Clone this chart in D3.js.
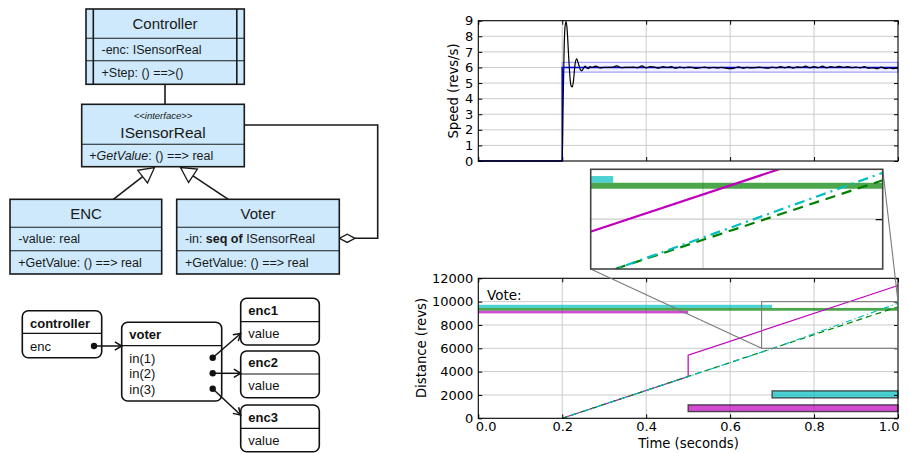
<!DOCTYPE html>
<html><head><meta charset="utf-8">
<script src="https://cdn.jsdelivr.net/npm/d3@7"></script>
<style>body{margin:0;background:#fff} svg{display:block}</style>
</head><body><svg id="c" width="909" height="453"></svg>
<script>
// ---------------- DATA ----------------
const speedTicks = [0,1,2,3,4,5,6,7,8,9];
const timeTicks = [0.0,0.2,0.4,0.6,0.8,1.0];
const distTicks = [0,2000,4000,6000,8000,10000,12000];

const refTime  = [0, 0.2, 0.2, 1.0];
const refSpeed = [0, 0, 6, 6];
const bandTime = [0.2, 1.0];
const bandLow  = [5.7, 5.7];
const bandHigh = [6.33, 6.33];

const speedTime = [0, 0.2, 0.202, 0.2045, 0.207, 0.2095, 0.212, 0.2155, 0.219, 0.2215, 0.224, 0.227, 0.2305, 0.2345, 0.2385, 0.2425, 0.2465, 0.2505, 0.2545, 0.2585, 0.2625, 0.2665,
  0.27,0.28,0.29,0.30,0.31,0.32,0.33,0.34,0.35,0.36,0.37,0.38,0.39,0.40,0.41,0.42,0.43,0.44,0.45,0.46,0.47,0.48,0.49,0.50,
  0.51,0.52,0.53,0.54,0.55,0.56,0.57,0.58,0.59,0.60,0.61,0.62,0.63,0.64,0.65,0.66,0.67,0.68,0.69,0.70,
  0.71,0.72,0.73,0.74,0.75,0.76,0.77,0.78,0.79,0.80,0.81,0.82,0.83,0.84,0.85,0.86,0.87,0.88,0.89,0.90,
  0.91,0.92,0.93,0.94,0.95,0.96,0.97,0.98,0.99,1.00];
const speedValue = [0, 0, 3.5, 7.2, 8.7, 8.95, 8.3, 6.6, 5.2, 4.8, 4.75, 5.2, 6.2, 6.55, 6.25, 5.9, 5.78, 5.95, 6.08, 5.97, 5.93, 6.05,
  6.0,6.08,5.97,6.0,6.0,6.02,6.1,5.99,6.0,6.0,6.02,5.98,6.1,5.97,6.05,6.02,5.96,6.06,6.0,6.05,5.95,6.03,5.97,6.02,
  6.0,5.94,5.99,6.02,5.96,6.0,5.97,6.0,5.96,5.92,5.96,6.04,5.95,6.0,5.97,5.99,6.02,5.98,5.95,6.02,
  5.97,6.06,5.98,6.05,5.96,6.04,6.0,6.08,5.98,6.06,5.99,6.08,5.97,6.06,6.0,6.07,6.0,6.05,5.99,6.03,
  5.97,6.05,5.95,5.98,5.92,6.02,5.93,5.97,5.92,5.95];

// distance (revs) per encoder
const greenTime   = [0.2, 1.0];
const greenDist   = [0, 9560];
const cyanTime    = [0.2, 0.7, 1.0];
const cyanDist    = [0, 5965, 9860];
const magentaTime = [0.2, 0.5, 0.5, 1.0];
const magentaDist = [0, 3580, 5410, 11380];

// vote bars
const voteColor = ['#00bfbf', '#008000', '#bf00bf'];
const voteStart = [0, 0, 0];
const voteEnd   = [0.7, 1.0, 0.5];
const voteLow   = [9460, 9220, 8990];
const voteHigh  = [9730, 9460, 9220];

// fault bars
const faultColor = ['#00bfbf', '#bf00bf'];
const faultStart = [0.7, 0.5];
const faultEnd   = [1.0, 1.0];
const faultLow   = [1750, 575];
const faultHigh  = [2350, 1150];

// inset zoom region
const insetTime = [0.675, 1.0];
const insetDist = [6000, 10000];
const insetGridTime = [0.8];
const insetGridDist = [8000];

// ---------------- DRAW ----------------
(function(){
const svg = d3.select('#c');
svg.append('rect').attr('width',909).attr('height',453).attr('fill','#fff');
const FONT = 'DejaVu Sans';
const gridCol = '#cbcbcb';

// ===== UML class diagram =====
const umlFill = '#cde9fb', ink = '#1a1a1a';
const uml = svg.append('g').attr('font-family','Liberation Sans, Arial, sans-serif').attr('fill', ink);
function umlBox(x, y, w, h, divs) {
  uml.append('rect').attr('x',x).attr('y',y).attr('width',w).attr('height',h)
    .attr('fill',umlFill).attr('stroke',ink).attr('stroke-width',1.6);
  divs.forEach(d => uml.append('line').attr('x1',x).attr('x2',x+w).attr('y1',d).attr('y2',d)
    .attr('stroke',ink).attr('stroke-width',1.1));
}
function txt(g, x, y, s, size, opts={}) {
  const t = g.append('text').attr('x',x).attr('y',y).attr('font-size',size)
    .attr('dominant-baseline','central').text(s);
  if (opts.anchor) t.attr('text-anchor',opts.anchor);
  if (opts.italic) t.attr('font-style','italic');
  if (opts.bold) t.attr('font-weight','bold');
  return t;
}
uml.append('line').attr('x1',165).attr('x2',165).attr('y1',84).attr('y2',105).attr('stroke',ink).attr('stroke-width',1.6);
uml.append('polyline').attr('points','244,125 377.7,125 377.7,238.3 355,238.3')
  .attr('fill','none').attr('stroke',ink).attr('stroke-width',1.6);
function generalization(sx, sy, tx, ty) {
  const dx = tx - sx, dy = ty - sy, L = Math.hypot(dx, dy);
  const ux = dx / L, uy = dy / L, nx = -uy, ny = ux;
  const bl = 15, hw = 8;
  const bx = tx - ux * bl, by = ty - uy * bl;
  uml.append('line').attr('x1',sx).attr('y1',sy).attr('x2',bx).attr('y2',by).attr('stroke',ink).attr('stroke-width',1.6);
  uml.append('polygon').attr('points',`${tx},${ty} ${bx+nx*hw},${by+ny*hw} ${bx-nx*hw},${by-ny*hw}`)
    .attr('fill','#fff').attr('stroke',ink).attr('stroke-width',1.3);
}
generalization(113.3, 199.3, 154.5, 167.5);
generalization(228.3, 199.3, 180.5, 167.5);
uml.append('polygon').attr('points','339.3,238.3 347.2,234.2 355,238.3 347.2,242.4')
  .attr('fill','#fff').attr('stroke',ink).attr('stroke-width',1.3);

umlBox(86, 9, 158.3, 75.3, [38.3, 60.7]);
[93.3, 236.8].forEach(x => uml.append('line').attr('x1',x).attr('x2',x).attr('y1',9).attr('y2',84.3).attr('stroke',ink).attr('stroke-width',1.6));
txt(uml, 165, 23.5, 'Controller', 15, {anchor:'middle'});
txt(uml, 101.5, 50, '-enc: ISensorReal', 12.5);
txt(uml, 101.5, 72.5, '+Step: () ==>()', 12.5);
umlBox(81.7, 104.3, 162.6, 62.4, [144.3]);
txt(uml, 163, 115.5, '<<interface>>', 9.5, {anchor:'middle', italic:true});
txt(uml, 163, 132, 'ISensorReal', 15.5, {anchor:'middle'});
{
  const t = uml.append('text').attr('x',89.3).attr('y',155.5).attr('font-size',12.5).attr('dominant-baseline','central');
  t.append('tspan').text('+');
  t.append('tspan').attr('font-style','italic').text('GetValue');
  t.append('tspan').text(': () ==> real');
}
umlBox(10, 199.3, 151.7, 74.7, [227.3, 250.7]);
txt(uml, 86, 213, 'ENC', 15, {anchor:'middle'});
txt(uml, 18.3, 239, '-value: real', 12.5);
txt(uml, 18.3, 262.5, '+GetValue: () ==> real', 12.5);
umlBox(176.7, 199.3, 162.6, 74.7, [227.3, 250.7]);
txt(uml, 258, 213, 'Voter', 15, {anchor:'middle'});
{
  const t = uml.append('text').attr('x',185).attr('y',239).attr('font-size',12.5).attr('dominant-baseline','central');
  t.append('tspan').text('-in: ');
  t.append('tspan').attr('font-weight','bold').text('seq of');
  t.append('tspan').text(' ISensorReal');
}
txt(uml, 185, 262.5, '+GetValue: () ==> real', 12.5);

// ===== Object diagram =====
const obj = svg.append('g').attr('font-family','Liberation Sans, Arial, sans-serif').attr('fill','#111');
function objBox(x, y, w, h, div) {
  obj.append('rect').attr('x',x).attr('y',y).attr('width',w).attr('height',h).attr('rx',6)
    .attr('fill','#fff').attr('stroke','#111').attr('stroke-width',1.6);
  obj.append('line').attr('x1',x).attr('x2',x+w).attr('y1',div).attr('y2',div).attr('stroke','#111').attr('stroke-width',1.2);
}
function openArrow(x1, y1, x2, y2) {
  obj.append('line').attr('x1',x1).attr('y1',y1).attr('x2',x2).attr('y2',y2).attr('stroke','#111').attr('stroke-width',1.5);
  const a = Math.atan2(y2 - y1, x2 - x1), L = 8, sp = 0.55;
  const p = `${x2 - L*Math.cos(a - sp)},${y2 - L*Math.sin(a - sp)} ${x2},${y2} ${x2 - L*Math.cos(a + sp)},${y2 - L*Math.sin(a + sp)}`;
  obj.append('polyline').attr('points',p).attr('fill','none').attr('stroke','#111').attr('stroke-width',1.5);
  obj.append('circle').attr('cx',x1).attr('cy',y1).attr('r',3.2).attr('fill','#111');
}
objBox(22.3, 310.7, 79.4, 47, 333.3);
txt(obj, 30, 323.5, 'controller', 13, {bold:true});
txt(obj, 30, 346, 'enc', 13);
objBox(121.7, 322.3, 100, 78.7, 345.7);
txt(obj, 129.3, 334.3, 'voter', 13, {bold:true});
txt(obj, 129.3, 358.3, 'in(1)', 13);
txt(obj, 129.3, 373.6, 'in(2)', 13);
txt(obj, 129.3, 389, 'in(3)', 13);
objBox(240.7, 298.3, 78.6, 46.7, 321.7);
txt(obj, 248.3, 310.3, 'enc1', 13, {bold:true});
txt(obj, 248.3, 333.5, 'value', 13);
objBox(240.7, 351, 78.6, 46.7, 374);
txt(obj, 248.3, 362.8, 'enc2', 13, {bold:true});
txt(obj, 248.3, 385.5, 'value', 13);
objBox(240.7, 405, 78.6, 46.7, 428.3);
txt(obj, 248.3, 417.3, 'enc3', 13, {bold:true});
txt(obj, 248.3, 440.5, 'value', 13);
openArrow(94, 346, 121.7, 346);
openArrow(212.7, 357.7, 240.7, 333.5);
openArrow(212.7, 373.3, 240.7, 373.3);
openArrow(212.7, 388.7, 240.7, 415);

// ===== Speed chart =====
const X0 = 478.3, X1 = 898;
const x = d3.scaleLinear().domain([0,1]).range([X0, X1]);
const ySp = d3.scaleLinear().domain([0,9]).range([161, 20.7]);
const topG = svg.append('g');
timeTicks.slice(1,-1).forEach(t => topG.append('line').attr('x1',x(t)).attr('x2',x(t)).attr('y1',ySp(0)).attr('y2',ySp(9)).attr('stroke',gridCol));
speedTicks.slice(1,-1).forEach(v => topG.append('line').attr('x1',X0).attr('x2',X1).attr('y1',ySp(v)).attr('y2',ySp(v)).attr('stroke',gridCol));
topG.append('path').datum(d3.range(bandTime.length))
  .attr('d', d3.area().x(i => x(bandTime[i])).y0(i => ySp(bandLow[i])).y1(i => ySp(bandHigh[i])))
  .attr('fill','#3030ff').attr('fill-opacity',0.06).attr('stroke','#8080ff').attr('stroke-opacity',0.7).attr('stroke-width',1.2);
topG.append('path').datum(d3.range(refTime.length))
  .attr('d', d3.line().x(i => x(refTime[i])).y(i => ySp(refSpeed[i])))
  .attr('fill','none').attr('stroke','#0000ff').attr('stroke-width',1.6);
topG.append('path').datum(d3.range(speedTime.length))
  .attr('d', d3.line().curve(d3.curveMonotoneX).x(i => x(speedTime[i])).y(i => ySp(speedValue[i])))
  .attr('fill','none').attr('stroke','#000').attr('stroke-width',1.2);
function frameAxes(g, yScale, yTicks, xLabels, yFmt) {
  const ax = g.append('g').attr('transform',`translate(${X0},0)`)
    .call(d3.axisLeft(yScale).tickValues(yTicks).tickSizeInner(-4).tickSizeOuter(0).tickPadding(5).tickFormat(yFmt));
  const axr = g.append('g').attr('transform',`translate(${X1},0)`)
    .call(d3.axisRight(yScale).tickValues(yTicks).tickSizeInner(-4).tickSizeOuter(0).tickFormat(''));
  const [yb, yt] = yScale.range();
  const axt = g.append('g').attr('transform',`translate(0,${yt})`)
    .call(d3.axisTop(x).tickValues(timeTicks).tickSizeInner(-4).tickSizeOuter(0).tickFormat(''));
  const axb = g.append('g').attr('transform',`translate(0,${yb})`)
    .call(d3.axisBottom(x).tickValues(timeTicks).tickSizeInner(-4).tickSizeOuter(0).tickPadding(3)
      .tickFormat(xLabels ? d3.format('.1f') : ''));
  [ax, axr, axt, axb].forEach(a => {
    a.select('.domain').remove();
    a.attr('font-family', FONT).attr('font-size', 13);
    a.selectAll('.tick line').attr('stroke','#000');
    a.selectAll('.tick text').attr('fill','#000');
  });
  if (xLabels) {
    const texts = axb.selectAll('.tick text');
    const n = texts.size();
    texts.each(function(d, i) {
      if (i === 0) d3.select(this).attr('text-anchor','start').attr('x',-3);
      if (i === n - 1) d3.select(this).attr('text-anchor','end').attr('x',1);
    });
  }
  g.append('rect').attr('x',X0).attr('y',yt).attr('width',X1-X0).attr('height',yb-yt)
    .attr('fill','none').attr('stroke','#000').attr('stroke-width',1.1);
}
frameAxes(topG, ySp, speedTicks, false, d3.format('d'));
topG.append('text').attr('transform','translate(458,91) rotate(-90)').attr('text-anchor','middle')
  .attr('font-family',FONT).attr('font-size',13.2).text('Speed (revs/s)');

// ===== Distance chart =====
const yD = d3.scaleLinear().domain([0,12000]).range([418.3, 278.3]);
const bot = svg.append('g');
timeTicks.slice(1,-1).forEach(t => bot.append('line').attr('x1',x(t)).attr('x2',x(t)).attr('y1',yD(0)).attr('y2',yD(12000)).attr('stroke',gridCol));
distTicks.slice(1,-1).forEach(v => bot.append('line').attr('x1',X0).attr('x2',X1).attr('y1',yD(v)).attr('y2',yD(v)).attr('stroke',gridCol));
function drawData(g, xs, ys, lw, scale) {
  voteColor.forEach((c, i) => g.append('rect')
    .attr('x', xs(voteStart[i])).attr('width', xs(voteEnd[i]) - xs(voteStart[i]))
    .attr('y', ys(voteHigh[i])).attr('height', ys(voteLow[i]) - ys(voteHigh[i]))
    .attr('fill', c).attr('fill-opacity', 0.7));
  const mk = (T, D) => d3.line().x(i => xs(T[i])).y(i => ys(D[i]))(d3.range(T.length));
  g.append('path').attr('d', mk(magentaTime, magentaDist)).attr('fill','none').attr('stroke','#bf00bf').attr('stroke-width',lw);
  g.append('path').attr('d', mk(greenTime, greenDist)).attr('fill','none').attr('stroke','#008000').attr('stroke-width',lw)
    .attr('stroke-dasharray', `${6*scale},${4*scale}`);
  g.append('path').attr('d', mk(cyanTime, cyanDist)).attr('fill','none').attr('stroke','#00bfbf').attr('stroke-width',lw)
    .attr('stroke-dasharray', `${6*scale},${3*scale},${1.2*scale},${3*scale}`).attr('stroke-dashoffset', 4*scale);
}
drawData(bot, x, yD, 1.2, 1);
faultColor.forEach((c, i) => bot.append('rect')
  .attr('x', x(faultStart[i])).attr('width', x(faultEnd[i]) - x(faultStart[i]))
  .attr('y', yD(faultHigh[i])).attr('height', yD(faultLow[i]) - yD(faultHigh[i]))
  .attr('fill', c).attr('fill-opacity', 0.7).attr('stroke','#222').attr('stroke-opacity',0.75).attr('stroke-width',1.4));
bot.append('text').attr('x',487).attr('y',300).attr('font-family',FONT).attr('font-size',13.5).text('Vote:');
frameAxes(bot, yD, distTicks, true, d3.format('d'));
bot.append('text').attr('transform','translate(426,348) rotate(-90)').attr('text-anchor','middle')
  .attr('font-family',FONT).attr('font-size',13.2).text('Distance (revs)');
bot.append('text').attr('x',688.5).attr('y',448).attr('text-anchor','middle')
  .attr('font-family',FONT).attr('font-size',13.2).text('Time (seconds)');

// ===== inset (zoom) =====
const ix = d3.scaleLinear().domain(insetTime).range([590.7, 882.7]);
const iy = d3.scaleLinear().domain(insetDist).range([269, 169.3]);
const markCol = '#7a7a7a';
svg.append('rect').attr('x',x(insetTime[0])).attr('y',yD(insetDist[1]))
  .attr('width',x(insetTime[1]) - x(insetTime[0])).attr('height',yD(insetDist[0]) - yD(insetDist[1]))
  .attr('fill','none').attr('stroke',markCol).attr('stroke-width',1.1);
svg.append('line').attr('x1',ix(insetTime[0])).attr('y1',iy(insetDist[0])).attr('x2',x(insetTime[0])).attr('y2',yD(insetDist[0]))
  .attr('stroke',markCol).attr('stroke-width',1.1);
svg.append('line').attr('x1',ix(insetTime[1])).attr('y1',iy(insetDist[1])).attr('x2',x(insetTime[1])).attr('y2',yD(insetDist[1]))
  .attr('stroke',markCol).attr('stroke-width',1.1);
svg.append('clipPath').attr('id','insetClip').append('rect')
  .attr('x',590.7).attr('y',169.3).attr('width',292).attr('height',99.7);
const ins = svg.append('g');
ins.append('rect').attr('x',590.7).attr('y',169.3).attr('width',292).attr('height',99.7).attr('fill','#fff');
const insIn = ins.append('g').attr('clip-path','url(#insetClip)');
insetGridTime.forEach(t => insIn.append('line').attr('x1',ix(t)).attr('x2',ix(t)).attr('y1',169.3).attr('y2',269).attr('stroke',gridCol).attr('stroke-width',1.2));
insetGridDist.forEach(v => insIn.append('line').attr('x1',590.7).attr('x2',882.7).attr('y1',iy(v)).attr('y2',iy(v)).attr('stroke',gridCol).attr('stroke-width',1.2));
drawData(insIn, ix, iy, 2.2, 1.7);
ins.append('g').attr('transform','translate(882.7,0)')
  .call(d3.axisRight(iy).tickValues(insetGridDist).tickSizeInner(-7).tickSizeOuter(0).tickFormat(''))
  .call(a => { a.select('.domain').remove(); a.selectAll('line').attr('stroke','#000').attr('stroke-width',1.2); });
ins.append('rect').attr('x',590.7).attr('y',169.3).attr('width',292).attr('height',99.7)
  .attr('fill','none').attr('stroke','#444').attr('stroke-width',1.6);
})();
</script></body></html>
